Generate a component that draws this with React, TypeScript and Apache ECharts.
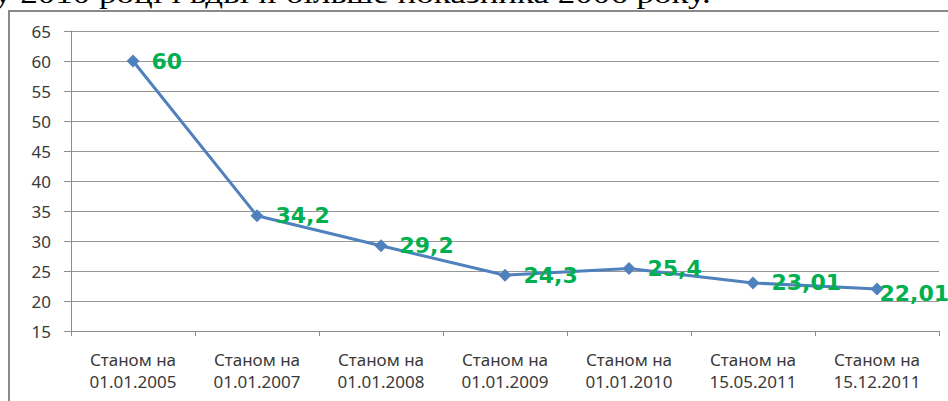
import React, { useEffect, useRef } from "react";
import * as echarts from "echarts";

const categories = [
  "Станом на\n01.01.2005",
  "Станом на\n01.01.2007",
  "Станом на\n01.01.2008",
  "Станом на\n01.01.2009",
  "Станом на\n01.01.2010",
  "Станом на\n15.05.2011",
  "Станом на\n15.12.2011",
];
const values = [60, 34.2, 29.2, 24.3, 25.4, 23.01, 22.01];
const yMin = 15;
const yMax = 65;
const yStep = 5;
const headerText = "у 2010 році і вдвічі більше показника 2006 року.";

export default function App() {
  const ref = useRef<HTMLDivElement>(null);
  useEffect(() => {
    document.body.style.margin = "0";
    if (!ref.current) return;
    const chart = echarts.init(ref.current, null, { renderer: "svg" });
    const last = values.length - 1;
    chart.setOption({
      animation: false,
      backgroundColor: "#ffffff",
      graphic: [
        {
          type: "rect",
          silent: true,
          shape: { x: 9, y: 11, width: 1000, height: 500 },
          style: { fill: "none", stroke: "#8a8a8a", lineWidth: 2 },
        },
        {
          type: "text",
          silent: true,
          x: -6,
          y: 8,
          scaleX: 1.25,
          style: {
            text: headerText,
            font: "28px 'Liberation Serif', 'Times New Roman', serif",
            fill: "#000000",
            verticalAlign: "bottom",
          },
        },
      ],
      grid: { left: 71, right: 9, top: 31, bottom: 70, containLabel: false },
      xAxis: {
        type: "category",
        data: categories,
        boundaryGap: true,
        axisLine: { lineStyle: { color: "#8c8c8c", width: 1 } },
        axisTick: { show: true, length: 5, lineStyle: { color: "#8c8c8c" } },
        axisLabel: {
          color: "#3a3a3a",
          fontFamily: "'Noto Sans', sans-serif",
          fontSize: 17,
          lineHeight: 22,
          margin: 17,
          interval: 0,
        },
      },
      yAxis: {
        type: "value",
        min: yMin,
        max: yMax,
        interval: yStep,
        axisLine: { show: true, lineStyle: { color: "#8c8c8c", width: 1 } },
        axisTick: { show: true, length: 7, lineStyle: { color: "#8c8c8c" } },
        axisLabel: {
          color: "#3a3a3a",
          fontFamily: "'Noto Sans', sans-serif",
          fontSize: 17,
          margin: 20,
        },
        splitLine: { show: true, lineStyle: { color: "#969696", width: 1 } },
      },
      series: [
        {
          type: "line",
          data: values.map((v, i) =>
            i === last ? { value: v, label: { offset: [-16, 5] } } : v
          ),
          symbol: "diamond",
          symbolSize: 13,
          lineStyle: { color: "#4F81BD", width: 3 },
          itemStyle: { color: "#4F81BD" },
          label: {
            show: true,
            position: "right",
            distance: 12,
            color: "#00B050",
            fontFamily: "'DejaVu Sans', sans-serif",
            fontWeight: "bold",
            fontSize: 22,
            formatter: (p: any) => String(p.value).replace(".", ","),
          },
        },
      ],
    });
    return () => chart.dispose();
  }, []);
  return <div ref={ref} style={{ width: 948, height: 401 }} />;
}
